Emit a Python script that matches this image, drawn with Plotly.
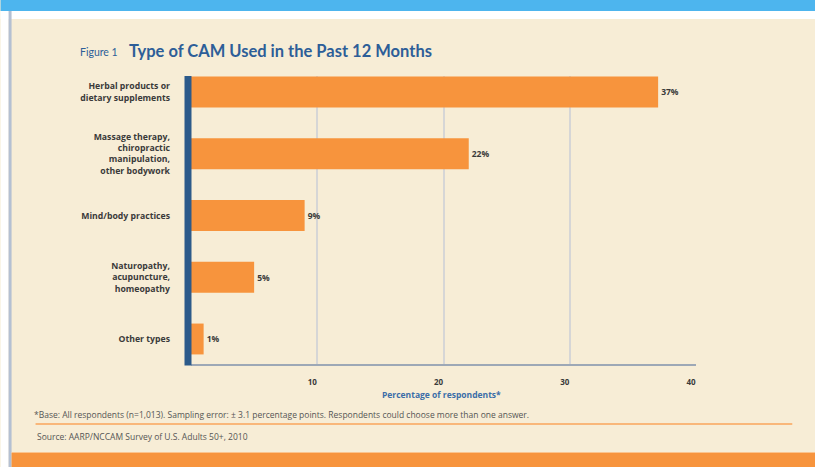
import plotly.graph_objects as go

categories = [
    "Herbal products or<br>dietary supplements",
    "Massage therapy,<br>chiropractic<br>manipulation,<br>other bodywork",
    "Mind/body practices",
    "Naturopathy,<br>acupuncture,<br>homeopathy",
    "Other types",
]
values = [37, 22, 9, 5, 1]
x_ticks = [10, 20, 30, 40]

title_small = "Figure 1"
title_main = "Type of CAM Used in the Past 12 Months"
x_title = "Percentage of respondents*"
footnote = "*Base: All respondents (n=1,013). Sampling error: \u00b1 3.1 percentage points. Respondents could choose more than one answer."
source = "Source: AARP/NCCAM Survey of U.S. Adults 50+, 2010"

W_PX, H_PX = 815, 467
L, R, T, B = 190.5, 695.7, 76, 364
PW, PH = R - L, B - T


def px(x):
    return (x - L) / PW


def py(y):
    return (B - y) / PH


BEIGE = "#F7EDD6"
ORANGE = "#F7943D"
NAVY = "#2C5A8A"
TITLE_BLUE = "#2D5E98"
TEXT = "#3a3a3a"
FONT = "Open Sans"

fig = go.Figure(
    go.Bar(
        x=values,
        y=categories,
        orientation="h",
        marker=dict(color=ORANGE, line=dict(width=0)),
        width=0.5,
        texttemplate="%{x}%",
        textposition="outside",
        outsidetextfont=dict(family=FONT, size=8.5, color=TEXT, weight="bold"),
        cliponaxis=False,
        hoverinfo="skip",
    )
)

shapes = [
    dict(type="rect", xref="paper", yref="paper", x0=px(0), x1=px(W_PX), y0=py(11), y1=py(0),
         fillcolor="#4DB5EE", line=dict(width=0), layer="below"),
    dict(type="rect", xref="paper", yref="paper", x0=px(0), x1=px(W_PX), y0=py(19), y1=py(11),
         fillcolor="#FFFFFF", line=dict(width=0), layer="below"),
    dict(type="rect", xref="paper", yref="paper", x0=px(0), x1=px(8), y0=py(H_PX), y1=py(11),
         fillcolor="#FFFFFF", line=dict(width=0), layer="below"),
    dict(type="rect", xref="paper", yref="paper", x0=px(8), x1=px(11), y0=py(H_PX), y1=py(11),
         fillcolor="#B4C0D2", line=dict(width=0), layer="below"),
    dict(type="rect", xref="paper", yref="paper", x0=px(11), x1=px(W_PX), y0=py(H_PX), y1=py(453),
         fillcolor=ORANGE, line=dict(width=0), layer="below"),
    dict(type="line", xref="paper", yref="paper", x0=px(11), x1=px(W_PX), y0=py(452.5), y1=py(452.5),
         line=dict(color="#FBC48E", width=1), layer="below"),
    dict(type="line", xref="paper", yref="paper", x0=px(35), x1=px(792), y0=py(424), y1=py(424),
         line=dict(color="#F9B77A", width=2), layer="below"),
    dict(type="rect", xref="paper", yref="paper", x0=px(184), x1=px(191), y0=py(365.5), y1=py(76),
         fillcolor=NAVY, line=dict(width=0), layer="above"),
]

annotations = [
    dict(text=title_small, xref="paper", yref="paper", x=px(77), y=py(52.5), xanchor="left", yanchor="middle",
         showarrow=False, font=dict(family="Lato", size=10.5, color=TITLE_BLUE)),
    dict(text="<b>" + title_main + "</b>", xref="paper", yref="paper", x=px(126), y=py(51), xanchor="left",
         yanchor="middle", showarrow=False, font=dict(family="Lato", size=16.5, color=TITLE_BLUE)),
    dict(text="<b>" + x_title + "</b>", xref="paper", yref="paper", x=px(441), y=py(394), xanchor="center",
         yanchor="middle", showarrow=False, font=dict(family=FONT, size=8.5, color="#3B6DA8")),
    dict(text=footnote, xref="paper", yref="paper", x=px(31), y=py(414), xanchor="left", yanchor="middle",
         showarrow=False, font=dict(family=FONT, size=8.5, color="#555555")),
    dict(text=source, xref="paper", yref="paper", x=px(34), y=py(436), xanchor="left", yanchor="middle",
         showarrow=False, font=dict(family=FONT, size=8.5, color="#555555")),
]

fig.update_layout(
    width=W_PX,
    height=H_PX,
    margin=dict(l=L, r=W_PX - R, t=T, b=H_PX - B, pad=0),
    paper_bgcolor=BEIGE,
    plot_bgcolor=BEIGE,
    showlegend=False,
    shapes=shapes,
    annotations=annotations,
    xaxis=dict(
        range=[0, 40],
        tickvals=x_ticks,
        ticktext=[str(v) for v in x_ticks],
        showgrid=True,
        gridcolor="#D6D6D6",
        gridwidth=2,
        zeroline=False,
        showline=True,
        linecolor="#9DA8B6",
        linewidth=2,
        ticks="",
        ticklabelshift=-5,
        ticklabelstandoff=9,
        tickfont=dict(family=FONT, size=8, color=TEXT, weight="bold"),
        fixedrange=True,
    ),
    yaxis=dict(
        type="category",
        categoryorder="array",
        categoryarray=categories,
        range=[4.405, -0.259],
        showgrid=False,
        zeroline=False,
        showline=False,
        ticks="",
        ticklabelstandoff=20,
        tickfont=dict(family=FONT, size=8.7, color=TEXT, weight="bold"),
        fixedrange=True,
    ),
)

fig.write_html(
    "out.html",
    config={"displayModeBar": False},
    post_script="document.body.style.margin='0px';document.body.style.padding='0px';",
)
